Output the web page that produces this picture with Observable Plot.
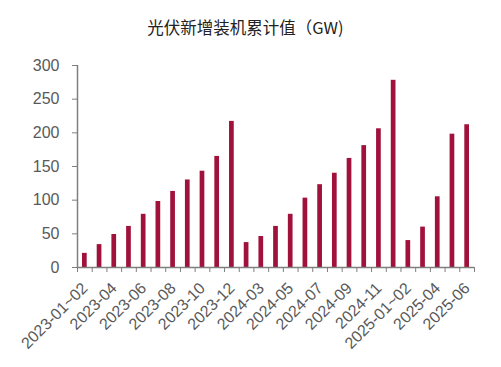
<!DOCTYPE html>
<html>
<head>
<meta charset="utf-8">
<script src="https://cdn.jsdelivr.net/npm/d3@7"></script>
<script src="https://cdn.jsdelivr.net/npm/@observablehq/plot@0.6"></script>
<style>
  html, body { margin: 0; padding: 0; background: #fff; }
  #title { height: 50px; line-height: 54px; text-align: center; font-family: "Noto Sans CJK SC", sans-serif; font-size: 16.5px; color: #222; padding-right: 10px; }
</style>
</head>
<body>
<div id="title">光伏新增装机累计值（GW)</div>
<div id="chart"></div>
<script>
const categories = [
  "2023-01~02","2023-03","2023-04","2023-05","2023-06","2023-07","2023-08","2023-09","2023-10","2023-11","2023-12",
  "2024-01~02","2024-03","2024-04","2024-05","2024-06","2024-07","2024-08","2024-09","2024-10","2024-11","2024-12",
  "2025-01~02","2025-03","2025-04","2025-05","2025-06"
];
const values = [
  21, 34, 49, 61, 79, 98, 113, 130, 143, 165, 217,
  37, 46, 61, 79, 103, 123, 140, 162, 181, 206, 278,
  40, 60, 105, 198, 212
];
const shownLabels = [
  "2023-01~02","2023-04","2023-06","2023-08","2023-10","2023-12",
  "2024-03","2024-05","2024-07","2024-09","2024-11",
  "2025-01~02","2025-04","2025-06"
];
const yTicks = [0, 50, 100, 150, 200, 250, 300];

const data = categories.map((c, i) => ({c, i, v: values[i]}));
const n = categories.length;
const labelPos = data.filter(d => shownLabels.includes(d.c)).map(d => d.i + 0.5);
const labelOf = new Map(data.map(d => [d.i + 0.5, d.c]));

const chart = Plot.plot({
  width: 501,
  height: 317,
  marginLeft: 77,
  marginRight: 27,
  marginTop: 15,
  marginBottom: 100,
  style: {fontFamily: "'Liberation Sans', Arial, sans-serif", fontSize: "16px", color: "#595959", background: "#fff"},
  x: {domain: [0, n], axis: null},
  y: {domain: [0, 300], axis: null},
  marks: [
    Plot.rectY(data, {x1: d => d.i, x2: d => d.i + 1, y: "v", fill: "#a0113c", insetLeft: 5, insetRight: 5}),
    Plot.axisY({ticks: yTicks, tickSize: 5, tickPadding: 13, stroke: "#7f7f7f", fill: "#595959", fontSize: 16, label: null}),
    Plot.ruleX([0], {stroke: "#7f7f7f", strokeWidth: 1.5}),
    Plot.ruleY([0], {stroke: "#7f7f7f", strokeWidth: 1.5}),
    Plot.axisX({ticks: d3.range(n + 1), tickSize: 5, tickFormat: () => "", stroke: "#7f7f7f", label: null}),
    Plot.axisX({ticks: labelPos, tickSize: 0, tickPadding: 18, tickRotate: -45, tickFormat: d => labelOf.get(d), fill: "#595959", fontSize: 16, label: null})
  ]
});
document.getElementById("chart").appendChild(chart);
</script>
</body>
</html>
